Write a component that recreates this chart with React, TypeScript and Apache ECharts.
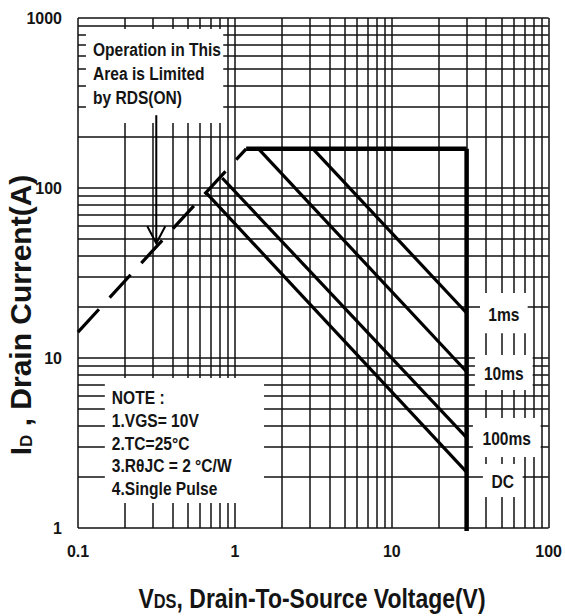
import React, { useEffect, useRef } from "react";
import * as echarts from "echarts";

// ---- axis / grid values ----
const X_LABELS = [0.1, 1, 10, 100];
const Y_LABELS = [1, 10, 100, 1000];
const X_GRID = [
  0.1, 0.2, 0.3, 0.4, 0.5, 0.6, 0.7, 0.8, 0.9,
  1, 2, 3, 4, 5, 6, 7, 8, 9,
  10, 20, 30, 40, 50, 60, 70, 80, 90, 100,
];
const Y_GRID = [
  1, 2, 3, 4, 5, 6, 7, 8, 9,
  10, 20, 30, 40, 50, 60, 70, 80, 90,
  100, 200, 300, 400, 500, 600, 700, 800, 900, 1000,
];

// ---- SOA boundary lines (VDS [V], ID [A]) ----
const RDS_LIMIT = [[0.1, 14.2], [1.18, 170]];
const ID_LIMIT = [[1.18, 170], [30, 170]];
const VDS_LIMIT = [[30, 170], [30, 0.96]];
const PULSE_1MS = [[3.18, 168], [30, 18.4]];
const PULSE_10MS = [[1.43, 168], [30, 8.3]];
const PULSE_100MS = [[0.83, 114.5], [30, 3.4]];
const PULSE_DC = [[0.657, 93.5], [30, 2.13]];

// ---- annotation arrow: tail (V, A) -> tip (V, A) ----
const ARROW = [[0.3155, 268, 0.3155, 47.3]];

// ---- annotation texts ----
const RDS_NOTE = ["Operation in This", "Area is Limited", "by RDS(ON)"];
const NOTE = ["NOTE :", "1.VGS= 10V", "2.TC=25°C", "3.RθJC = 2 °C/W", "4.Single Pulse"];
const PULSE_LABELS = ["1ms", "10ms", "100ms", "DC"];

// boxes: [x0, y0, x1, y1] in data units (top-left, bottom-right)
const BOX_CORNERS = [
  [0.1124, 861, 0.843, 241],
  [0.1483, 7.63, 1.534, 1.403],
  [36.5, 24.1, 73.5, 14.0],
  [33.9, 10.4, 79.1, 6.48],
  [32.9, 4.44, 88.9, 2.62],
  [38.1, 2.38, 68.3, 1.52],
];
const BOX_TEXTS = [RDS_NOTE, NOTE, [PULSE_LABELS[0]], [PULSE_LABELS[1]], [PULSE_LABELS[2]], [PULSE_LABELS[3]]];

const SANS = '"Liberation Sans", Arial, sans-serif';
const NARROW_SCALE = 0.82;
const TEXT_COLOR = "#141414";

export default function App() {
  const ref = useRef<HTMLDivElement>(null);

  useEffect(() => {
    if (!ref.current) return;
    const chart = echarts.init(ref.current, undefined, { renderer: "svg" });

    const gridSeries = {
      type: "line",
      data: [],
      z: 1,
      silent: true,
      clip: false,
      markLine: {
        z: 1,
        silent: true,
        symbol: ["none", "none"],
        animation: false,
        label: { show: false },
        emphasis: { disabled: true },
        lineStyle: { color: "#111", width: 1.5, type: "solid" },
        data: [
          ...X_GRID.map((v) => ({ xAxis: v })),
          ...Y_GRID.map((v) => ({ yAxis: v })),
        ],
      },
    };

    const boxSeries = {
      type: "custom",
      z: 3,
      silent: true,
      clip: false,
      data: BOX_CORNERS,
      encode: { x: [0, 2], y: [1, 3] },
      renderItem: (params: any, api: any) => {
        const i = params.dataIndex;
        const p0 = api.coord([api.value(0), api.value(1)]);
        const p1 = api.coord([api.value(2), api.value(3)]);
        const w = p1[0] - p0[0];
        const h = p1[1] - p0[1];
        const lines = BOX_TEXTS[i];
        const multi = lines.length > 1;
        const lh = i === 0 ? 24 : 22.8;
        const text = multi
          ? {
              type: "text",
              x: p0[0] + 7,
              y: p0[1] + 8,
              scaleX: NARROW_SCALE,
              style: {
                text: lines.join("\n"),
                font: `bold 19px ${SANS}`,
                fill: TEXT_COLOR,
                align: "left",
                textAlign: "left",
                verticalAlign: "top",
                textVerticalAlign: "top",
                lineHeight: lh,
              },
            }
          : {
              type: "text",
              x: p0[0] + w / 2,
              y: p0[1] + h / 2 + 1,
              scaleX: NARROW_SCALE,
              style: {
                text: lines[0],
                font: `bold 19px ${SANS}`,
                fill: TEXT_COLOR,
                align: "center",
                textAlign: "center",
                verticalAlign: "middle",
                textVerticalAlign: "middle",
              },
            };
        return {
          type: "group",
          children: [
            { type: "rect", shape: { x: p0[0], y: p0[1], width: w, height: h }, style: { fill: "#fff" } },
            text,
          ],
        };
      },
    };

    const arrowSeries = {
      type: "custom",
      z: 6,
      silent: true,
      clip: false,
      data: ARROW,
      encode: { x: [0, 2], y: [1, 3] },
      renderItem: (_p: any, api: any) => {
        const tail = api.coord([api.value(0), api.value(1)]);
        const tip = api.coord([api.value(2), api.value(3)]);
        return {
          type: "group",
          children: [
            {
              type: "line",
              shape: { x1: tail[0], y1: tail[1], x2: tip[0], y2: tip[1] },
              style: { stroke: "#000", lineWidth: 2 },
            },
            {
              type: "polyline",
              shape: { points: [[tip[0] - 9, tip[1] - 17], [tip[0], tip[1]], [tip[0] + 9, tip[1] - 17]] },
              style: { stroke: "#000", fill: "none", lineWidth: 2 },
            },
          ],
        };
      },
    };

    const ln = (name: string, data: number[][], width: number, type: any = "solid") => ({
      type: "line",
      name,
      data,
      symbol: "none",
      showSymbol: false,
      silent: true,
      clip: false,
      z: 5,
      lineStyle: { color: "#000", width, type, cap: "butt" },
    });

    chart.setOption({
      animation: false,
      grid: { left: 78, right: 14, top: 18, bottom: 88 },
      xAxis: {
        type: "log",
        logBase: 10,
        min: X_LABELS[0],
        max: X_LABELS[X_LABELS.length - 1],
        axisLine: { show: false },
        axisTick: { show: false },
        splitLine: { show: false },
        axisLabel: {
          margin: 15,
          fontFamily: SANS,
          fontWeight: "bold",
          fontSize: 16,
          color: TEXT_COLOR,
          formatter: (v: number) => (v < 1 ? v.toFixed(1) : String(Math.round(v))),
        },
      },
      yAxis: {
        type: "log",
        logBase: 10,
        min: Y_LABELS[0],
        max: Y_LABELS[Y_LABELS.length - 1],
        axisLine: { show: false },
        axisTick: { show: false },
        splitLine: { show: false },
        axisLabel: {
          margin: 16,
          fontFamily: SANS,
          fontWeight: "bold",
          fontSize: 16,
          color: TEXT_COLOR,
          formatter: (v: number) => String(Math.round(v)),
        },
      },
      graphic: [
        {
          type: "text",
          x: 312,
          y: 598,
          scaleX: NARROW_SCALE,
          style: {
            text: "{a|V}{b|DS}{a|, Drain-To-Source Voltage(V)}",
            align: "center",
            verticalAlign: "middle",
            fill: TEXT_COLOR,
            rich: {
              a: { fontFamily: SANS, fontWeight: "bold", fontSize: 28, fill: TEXT_COLOR, verticalAlign: "middle", lineHeight: 30 },
              b: { fontFamily: SANS, fontWeight: "bold", fontSize: 20, fill: TEXT_COLOR, verticalAlign: "middle", lineHeight: 30, padding: [5, 0, 0, 0] },
            },
          },
        },
        {
          type: "text",
          x: 19,
          y: 315,
          rotation: Math.PI / 2,
          style: {
            text: "{a|I}{b|D}{a| , Drain Current(A)}",
            align: "center",
            verticalAlign: "middle",
            fill: TEXT_COLOR,
            rich: {
              a: { fontFamily: SANS, fontWeight: "bold", fontSize: 30, fill: TEXT_COLOR, verticalAlign: "bottom", lineHeight: 32 },
              b: { fontFamily: SANS, fontWeight: "bold", fontSize: 17, fill: TEXT_COLOR, verticalAlign: "bottom", lineHeight: 24 },
            },
          },
        },
      ],
      series: [
        gridSeries,
        boxSeries,
        ln("RDS(ON) limit", RDS_LIMIT, 3.2, [31, 15.8]),
        ln("ID limit", ID_LIMIT, 4.5),
        ln("VDS limit", VDS_LIMIT, 4.5),
        ln(PULSE_LABELS[0], PULSE_1MS, 3.2),
        ln(PULSE_LABELS[1], PULSE_10MS, 3.2),
        ln(PULSE_LABELS[2], PULSE_100MS, 3.2),
        ln(PULSE_LABELS[3], PULSE_DC, 3.2),
        arrowSeries,
      ],
    });

    return () => chart.dispose();
  }, []);

  return (
    <div
      ref={ref}
      style={{ position: "fixed", left: 0, top: 0, width: 565, height: 616, background: "#fff" }}
    />
  );
}
